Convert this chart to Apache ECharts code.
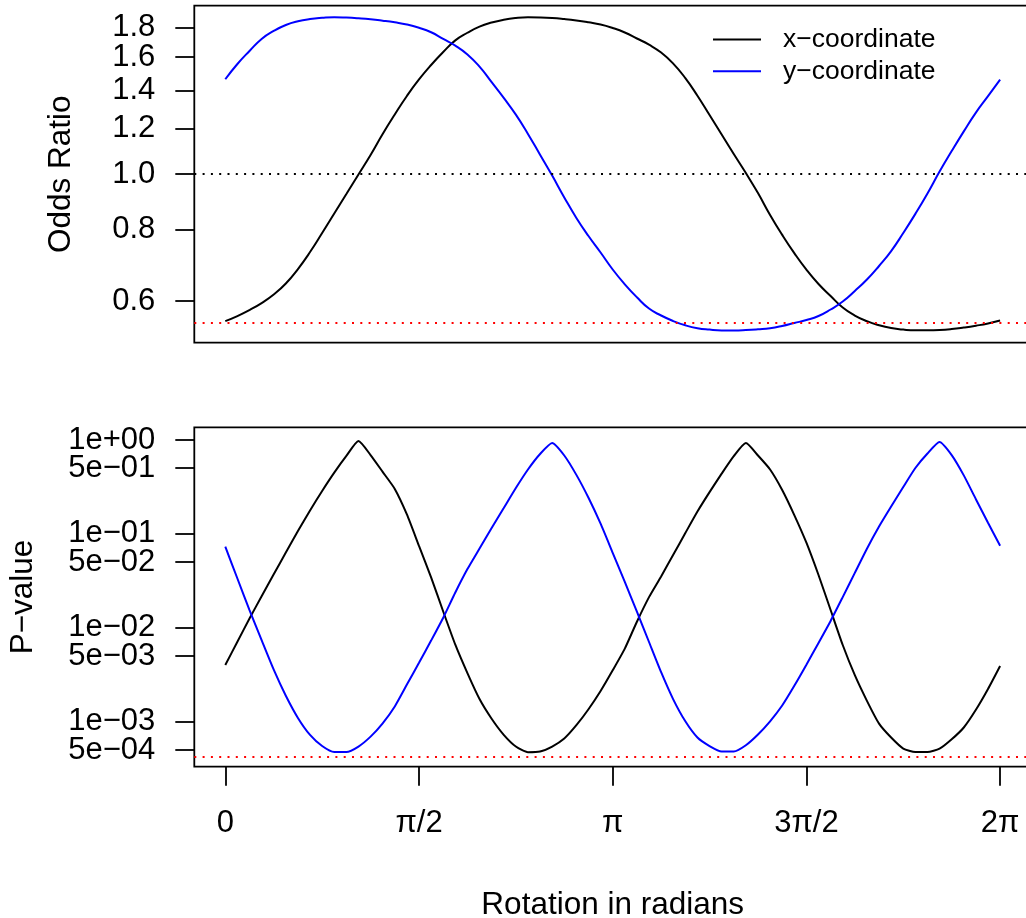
<!DOCTYPE html>
<html>
<head>
<meta charset="utf-8">
<script src="https://cdn.jsdelivr.net/npm/echarts@6/dist/echarts.min.js"></script>
<style>
html,body{margin:0;padding:0;background:#fff;}
#chart{width:1026px;height:918px;}
</style>
</head>
<body>
<div id="chart"></div>
<script>
// ---------- DATA ----------
// sample angles: k * pi/32, k = 0..64 (0 .. 2pi)
const theta = Array.from({length: 65}, (_, k) => k * Math.PI / 32);

const seriesNames = ['x\u2212coordinate', 'y\u2212coordinate'];

// Odds ratio, x-coordinate (black)
const orX = [0.5537,0.5650,0.5788,0.5953,0.6160,0.6439,0.6825,0.7307,0.7888,0.8532,
  0.9227,0.9980,1.0794,1.1743,1.2703,1.3685,1.4622,1.5499,1.6331,1.7111,
  1.7643,1.8081,1.8380,1.8589,1.8717,1.8769,1.8760,1.8722,1.8641,1.8535,
  1.8399,1.8239,1.7986,1.7660,1.7241,1.6815,1.6292,1.5586,1.4703,1.3696,
  1.2673,1.1717,1.0837,1.0040,0.9261,0.8481,0.7829,0.7275,0.6807,0.6427,
  0.6124,0.5846,0.5662,0.5534,0.5445,0.5384,0.5350,0.5334,0.5334,0.5341,
  0.5362,0.5395,0.5435,0.5483,0.5548];

// Odds ratio, y-coordinate (blue)
const orY = [1.4635,1.5560,1.6396,1.7208,1.7772,1.8203,1.8478,1.8641,1.8731,1.8778,
  1.8752,1.8700,1.8627,1.8521,1.8396,1.8239,1.8000,1.7677,1.7208,1.6754,
  1.6171,1.5397,1.4465,1.3576,1.2696,1.1749,1.0806,0.9936,0.9103,0.8382,
  0.7794,0.7293,0.6812,0.6418,0.6092,0.5822,0.5662,0.5537,0.5443,0.5380,
  0.5350,0.5333,0.5331,0.5339,0.5356,0.5380,0.5429,0.5494,0.5560,0.5650,
  0.5800,0.5989,0.6249,0.6543,0.6909,0.7337,0.7888,0.8519,0.9247,1.0097,
  1.0964,1.1870,1.2799,1.3672,1.4610];

// P-value, x-coordinate (black)
const pX = [4.016e-3,7.11e-3,0.01256,0.02165,0.03713,0.06335,0.1071,0.1775,0.2863,0.4484,
  0.6755,0.9758,0.6906,0.4573,0.3013,0.1611,0.0744,0.03440,0.01492,6.607e-3,
  3.293e-3,1.744e-3,1.076e-3,7.253e-4,5.442e-4,4.733e-4,4.814e-4,5.442e-4,6.625e-4,9.18e-4,
  1.358e-3,2.122e-3,3.527e-3,6.005e-3,0.01161,0.02123,0.03527,0.05990,0.1022,0.1732,
  0.2787,0.4377,0.6722,0.9290,0.6838,0.4852,0.2935,0.1587,0.0806,0.03650,
  0.01547,6.558e-3,3.128e-3,1.669e-3,9.546e-4,6.788e-4,5.183e-4,4.756e-4,4.756e-4,5.158e-4,
  6.497e-4,8.677e-4,1.339e-3,2.230e-3,3.919e-3];

// P-value, y-coordinate (blue)
const pY = [0.07305,0.03350,0.01539,7.378e-3,3.579e-3,1.891e-3,1.098e-3,7.235e-4,5.509e-4,4.756e-4,
  4.756e-4,5.442e-4,6.94e-4,9.616e-4,1.455e-3,2.484e-3,4.239e-3,7.307e-3,0.01281,0.02376,
  0.04218,0.06990,0.1156,0.1887,0.3082,0.4852,0.7095,0.9290,0.6838,0.4250,
  0.2423,0.1284,0.06290,0.03082,0.01484,7.06e-3,3.367e-3,1.731e-3,1.010e-3,6.788e-4,
  5.509e-4,4.814e-4,4.814e-4,5.618e-4,7.305e-4,1.010e-3,1.488e-3,2.412e-3,4.046e-3,6.905e-3,
  0.01184,0.02123,0.03843,0.06956,0.1199,0.1957,0.3158,0.5032,0.7182,0.952,
  0.6906,0.4198,0.2342,0.1316,0.07486];

// reference lines
const orRefOne = 1.0;
const orRefRed = 0.5537;
const pRefRed = 4.24e-4;

// tick values / labels
const orTicks = [0.6, 0.8, 1.0, 1.2, 1.4, 1.6, 1.8];
const orTickLabels = ['0.6', '0.8', '1.0', '1.2', '1.4', '1.6', '1.8'];
const pTicks = [1, 0.5, 0.1, 0.05, 0.01, 0.005, 0.001, 0.0005];
const pTickLabels = ['1e+00', '5e\u221201', '1e\u221201', '5e\u221202', '1e\u221202', '5e\u221203', '1e\u221203', '5e\u221204'];
const xTicks = [0, Math.PI / 2, Math.PI, 3 * Math.PI / 2, 2 * Math.PI];
const xTickLabels = ['0', '\u03c0/2', '\u03c0', '3\u03c0/2', '2\u03c0'];

// ---------- CHART ----------
const FONT = '"Liberation Sans", Arial, Helvetica, sans-serif';
const L10 = v => Math.log10(v);
const pairs = (vals) => theta.map((t, i) => [t, L10(vals[i])]);
function labelLookup(ticks, labels, useLog) {
  return function (v) {
    for (let i = 0; i < ticks.length; i++) {
      const tv = useLog ? L10(ticks[i]) : ticks[i];
      if (Math.abs(tv - v) < 1e-6) return labels[i];
    }
    return '';
  };
}
const xPad = 0.04 * 2 * Math.PI;
const xMin = -xPad, xMax = 2 * Math.PI + xPad;

const tickLine = {color: '#000', width: 1.8};
const dotted = (c) => ({color: c, width: 2, type: [2, 6.3], cap: 'butt'});
const labelBase = {fontSize: 31, color: '#000', fontFamily: FONT, showMinLabel: true, showMaxLabel: true, hideOverlap: false};
const nameStyle = {fontSize: 31.5, color: '#000', fontFamily: FONT};

// split the y ticks into two interleaved sets (two overlaid axes) so that
// closely spaced labels are all kept
const evenOf = arr => arr.filter((_, i) => i % 2 === 0);
const oddOf = arr => arr.filter((_, i) => i % 2 === 1);

function yAxisDef(gridIndex, min, max, ticks, labels, withName) {
  const vals = ticks.map(L10);
  const a = {gridIndex: gridIndex, type: 'value', min: min, max: max, position: 'left', offset: 0,
    axisLine: {show: false, onZero: false}, splitLine: {show: false},
    axisTick: {show: true, customValues: vals, length: 19, lineStyle: tickLine},
    axisLabel: Object.assign({customValues: vals, formatter: labelLookup(ticks, labels, true), margin: 39}, labelBase)};
  if (withName) Object.assign(a, withName);
  return a;
}
const orRange = [-0.2945, 0.2938];
const pRange = [-3.479, 0.135];

const chart = echarts.init(document.getElementById('chart'), null, {renderer: 'canvas'});
const option = {
  animation: false,
  backgroundColor: '#fff',
  textStyle: {fontFamily: FONT},
  grid: [
    {left: 194.3, top: 5.7, width: 836.8, height: 337, show: true, borderColor: '#000', borderWidth: 1.8, backgroundColor: 'transparent', outerBoundsMode: 'none', containLabel: false},
    {left: 194.3, top: 427.3, width: 836.8, height: 339.4, show: true, borderColor: '#000', borderWidth: 1.8, backgroundColor: 'transparent', outerBoundsMode: 'none', containLabel: false}
  ],
  legend: {
    data: seriesNames,
    orient: 'vertical',
    left: 713, top: 26,
    padding: 0,
    icon: 'rect',
    itemWidth: 48, itemHeight: 2, itemGap: 4.7,
    selectedMode: false,
    textStyle: {fontSize: 26.5, color: '#000', fontFamily: FONT, lineHeight: 26, padding: [0, 0, 0, 17]}
  },
  xAxis: [
    {gridIndex: 0, type: 'value', min: xMin, max: xMax, show: false,
     axisLine: {show: false, onZero: false}, splitLine: {show: false}},
    {gridIndex: 1, type: 'value', min: xMin, max: xMax,
     axisLine: {show: false, onZero: false}, splitLine: {show: false},
     axisTick: {show: true, customValues: xTicks, length: 19, lineStyle: tickLine},
     axisLabel: Object.assign({customValues: xTicks, formatter: labelLookup(xTicks, xTickLabels, false), margin: 41}, labelBase),
     name: 'Rotation in radians', nameLocation: 'middle', nameGap: 123,
     nameTextStyle: nameStyle}
  ],
  yAxis: [
    yAxisDef(0, orRange[0], orRange[1], evenOf(orTicks), evenOf(orTickLabels),
      {name: 'Odds Ratio', nameLocation: 'middle', nameRotate: 90, nameGap: 117, nameTextStyle: nameStyle}),
    yAxisDef(1, pRange[0], pRange[1], evenOf(pTicks), evenOf(pTickLabels),
      {name: 'P\u2212value', nameLocation: 'middle', nameRotate: 90, nameGap: 155, nameTextStyle: nameStyle}),
    yAxisDef(0, orRange[0], orRange[1], oddOf(orTicks), oddOf(orTickLabels), null),
    yAxisDef(1, pRange[0], pRange[1], oddOf(pTicks), oddOf(pTickLabels), null)
  ],
  series: [
    {name: seriesNames[0], type: 'line', xAxisIndex: 0, yAxisIndex: 0, data: pairs(orX), smooth: 0.5,
     symbol: 'none', showSymbol: false, color: '#000', lineStyle: {width: 2, color: '#000'}, emphasis: {disabled: true}, z: 3,
     markLine: {silent: true, symbol: ['none', 'none'], label: {show: false}, emphasis: {disabled: true},
       data: [{yAxis: L10(orRefOne), lineStyle: dotted('#000')}, {yAxis: L10(orRefRed), lineStyle: dotted('#ff0000')}]}},
    {name: seriesNames[1], type: 'line', xAxisIndex: 0, yAxisIndex: 0, data: pairs(orY), smooth: 0.5,
     symbol: 'none', showSymbol: false, color: '#0000ff', lineStyle: {width: 2, color: '#0000ff'}, emphasis: {disabled: true}, z: 3},
    {name: seriesNames[0], type: 'line', xAxisIndex: 1, yAxisIndex: 1, data: pairs(pX), smooth: 0.2,
     symbol: 'none', showSymbol: false, color: '#000', lineStyle: {width: 2, color: '#000'}, emphasis: {disabled: true}, z: 3,
     markLine: {silent: true, symbol: ['none', 'none'], label: {show: false}, emphasis: {disabled: true},
       data: [{yAxis: L10(pRefRed), lineStyle: dotted('#ff0000')}]}},
    {name: seriesNames[1], type: 'line', xAxisIndex: 1, yAxisIndex: 1, data: pairs(pY), smooth: 0.2,
     symbol: 'none', showSymbol: false, color: '#0000ff', lineStyle: {width: 2, color: '#0000ff'}, emphasis: {disabled: true}, z: 3}
  ]
};
chart.setOption(option);
</script>
</body>
</html>
